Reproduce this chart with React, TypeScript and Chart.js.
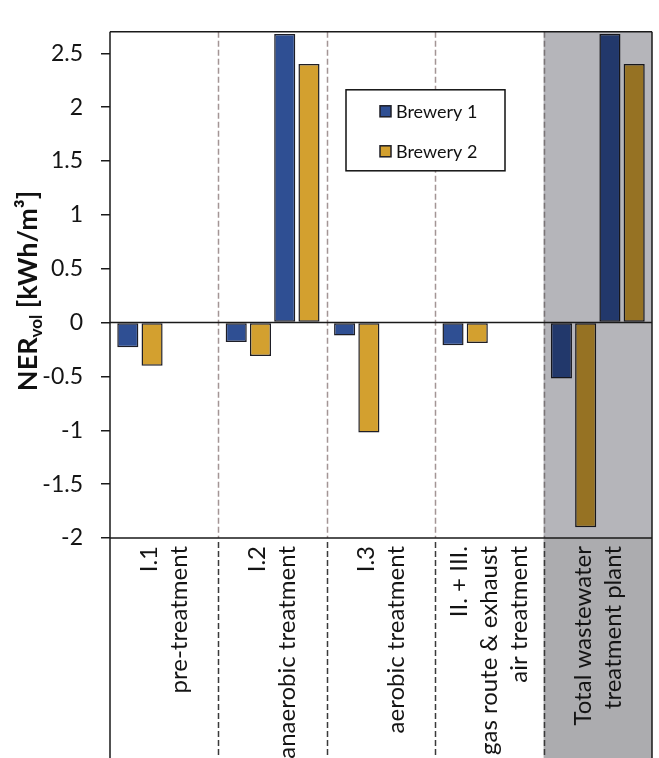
import React, { useEffect, useRef } from "react";
import { Chart, registerables } from "chart.js";

Chart.register(...registerables);

// Category labels (one entry per line of the rotated label)
const categories: string[][] = [
  ["I.1", "pre-treatment"],
  ["I.2", "anaerobic treatment"],
  ["I.3", "aerobic treatment"],
  ["II. + III.", "gas route & exhaust", "air treatment"],
  ["Total wastewater", "treatment plant"],
];

const seriesNames = ["Brewery 1", "Brewery 2"];

// Net energy ratio per volume, kWh/m³ (demand negative, yield positive)
const brewery1Demand = [-0.23, -0.18, -0.12, -0.21, -0.52];
const brewery2Demand = [-0.4, -0.31, -1.02, -0.19, -1.9];
const brewery1Yield = [null, 2.68, null, null, 2.68];
const brewery2Yield = [null, 2.4, null, null, 2.4];

const yTicks = [-2, -1.5, -1, -0.5, 0, 0.5, 1, 1.5, 2, 2.5];
const yMin = -2;
const yMax = 2.7;

const BLUE = "#2F4F93";
const GOLD = "#D3A02F";
const EDGE = "#1e1e26";
const FONT = "Lato, 'Open Sans', sans-serif";

const decorPlugin = {
  id: "decor",
  afterDatasetsDraw(chart: any) {
    const { ctx, chartArea: ca, scales } = chart;
    const x = scales.x;
    const y = scales.y;
    const H = chart.height;
    const half = (x.getPixelForValue(1) - x.getPixelForValue(0)) / 2;
    const lastLeft = x.getPixelForValue(categories.length - 1) - half;

    // shaded "total" column, plot part and label part
    ctx.save();
    ctx.globalCompositeOperation = "multiply";
    ctx.fillStyle = "rgb(181,181,186)";
    ctx.fillRect(lastLeft, ca.top, ca.right - lastLeft, ca.bottom - ca.top);
    ctx.fillStyle = "rgb(172,172,175)";
    ctx.fillRect(lastLeft, ca.bottom, ca.right - lastLeft, H - ca.bottom);
    ctx.restore();

    // dashed separators between categories
    ctx.save();
    ctx.lineWidth = 1.5;
    ctx.setLineDash([6, 3]);
    for (let i = 0; i < categories.length - 1; i++) {
      const sx = Math.round(x.getPixelForValue(i) + half) + 0.5;
      ctx.strokeStyle = i === categories.length - 2 ? "#7a7476" : "#a39595";
      ctx.beginPath();
      ctx.moveTo(sx, ca.top);
      ctx.lineTo(sx, ca.bottom);
      ctx.stroke();
      ctx.strokeStyle = "#3a3a3a";
      ctx.beginPath();
      ctx.moveTo(sx, ca.bottom + 4);
      ctx.lineTo(sx, H);
      ctx.stroke();
    }
    ctx.restore();

    // frame, zero line
    ctx.save();
    ctx.strokeStyle = "#1a1a1a";
    ctx.lineWidth = 1.5;
    const y0 = y.getPixelForValue(0);
    ctx.beginPath();
    ctx.moveTo(ca.left, ca.top);
    ctx.lineTo(ca.right, ca.top);
    ctx.moveTo(ca.left, y0);
    ctx.lineTo(ca.right, y0);
    ctx.moveTo(ca.left, ca.bottom);
    ctx.lineTo(ca.right, ca.bottom);
    ctx.moveTo(ca.left, ca.top);
    ctx.lineTo(ca.left, H);
    ctx.moveTo(ca.right, ca.top);
    ctx.lineTo(ca.right, H);
    ctx.stroke();
    ctx.restore();

    // rotated category labels
    ctx.save();
    ctx.fillStyle = "#141414";
    ctx.font = `24px ${FONT}`;
    ctx.textAlign = "right";
    ctx.textBaseline = "middle";
    const lh = 30;
    categories.forEach((lines, i) => {
      const cx = x.getPixelForValue(i);
      const n = lines.length;
      lines.forEach((line, j) => {
        const lx = cx + (j - (n - 1) / 2) * lh;
        ctx.save();
        ctx.translate(lx, ca.bottom + 8);
        ctx.rotate(-Math.PI / 2);
        ctx.fillText(line, 0, 0);
        ctx.restore();
      });
    });
    ctx.restore();

    // y-axis title with subscript
    ctx.save();
    ctx.fillStyle = "#111";
    ctx.translate(37, (ca.top + ca.bottom) / 2 + 6);
    ctx.rotate(-Math.PI / 2);
    ctx.textBaseline = "alphabetic";
    ctx.textAlign = "left";
    const mainFont = `bold 27px ${FONT}`;
    const subFont = `bold 17px ${FONT}`;
    ctx.font = mainFont;
    const w1 = ctx.measureText("NER").width;
    const w3 = ctx.measureText(" [kWh/m³]").width;
    ctx.font = subFont;
    const w2 = ctx.measureText("vol").width;
    let px = -(w1 + w2 + w3) / 2;
    ctx.font = mainFont;
    ctx.fillText("NER", px, 0);
    px += w1;
    ctx.font = subFont;
    ctx.fillText("vol", px, 5);
    px += w2;
    ctx.font = mainFont;
    ctx.fillText(" [kWh/m³]", px, 0);
    ctx.restore();

    // legend box
    ctx.save();
    const bx = ca.left + 236;
    const by = ca.top + 58;
    ctx.fillStyle = "#ffffff";
    ctx.fillRect(bx, by, 159, 81);
    ctx.strokeStyle = "#111";
    ctx.lineWidth = 1.5;
    ctx.strokeRect(bx, by, 159, 81);
    ctx.font = `18px ${FONT}`;
    ctx.textBaseline = "middle";
    ctx.textAlign = "left";
    [BLUE, GOLD].forEach((c, k) => {
      const iy = by + 16 + k * 40;
      ctx.fillStyle = c;
      ctx.fillRect(bx + 34, iy, 11, 11);
      ctx.strokeStyle = EDGE;
      ctx.lineWidth = 1.5;
      ctx.strokeRect(bx + 34, iy, 11, 11);
      ctx.fillStyle = "#111";
      ctx.fillText(seriesNames[k], bx + 50, iy + 6);
    });
    ctx.restore();
  },
};

export default function App() {
  const canvasRef = useRef<HTMLCanvasElement | null>(null);

  useEffect(() => {
    const canvas = canvasRef.current;
    if (!canvas) return;
    const barStyle = {
      borderColor: EDGE,
      borderWidth: 1.5,
      borderSkipped: false as const,
      categoryPercentage: 0.895,
      barPercentage: 0.87,
    };
    const chart = new Chart(canvas, {
      type: "bar",
      data: {
        labels: categories.map((c) => c.join(" ")),
        datasets: [
          { label: seriesNames[0], data: brewery1Demand, backgroundColor: BLUE, ...barStyle },
          { label: seriesNames[1], data: brewery2Demand, backgroundColor: GOLD, ...barStyle },
          { label: seriesNames[0] + " yield", data: brewery1Yield as any, backgroundColor: BLUE, ...barStyle },
          { label: seriesNames[1] + " yield", data: brewery2Yield as any, backgroundColor: GOLD, ...barStyle },
        ],
      },
      options: {
        animation: false,
        responsive: false,
        maintainAspectRatio: false,
        layout: { padding: { top: 14, right: 7, left: 0, bottom: 0 } },
        plugins: { legend: { display: false }, tooltip: { enabled: false } },
        scales: {
          x: {
            type: "category",
            grid: { display: false },
            border: { display: false },
            ticks: { display: false },
            afterFit: (s: any) => {
              s.height = 220;
            },
          },
          y: {
            min: yMin,
            max: yMax,
            afterBuildTicks: (s: any) => {
              s.ticks = yTicks.map((v) => ({ value: v }));
            },
            ticks: {
              callback: (v: any) => String(v),
              font: { family: FONT, size: 23 },
              color: "#141414",
              padding: 18,
            },
            grid: {
              drawOnChartArea: false,
              drawTicks: true,
              tickLength: 9,
              color: "#1a1a1a",
              lineWidth: 1.5,
            },
            border: { display: false },
            afterFit: (s: any) => {
              s.width = 110;
            },
          },
        },
      },
      plugins: [decorPlugin],
    });
    return () => chart.destroy();
  }, []);

  return (
    <div style={{ position: "absolute", left: 0, top: 0, width: 659, height: 758, background: "#fff" }}>
      <canvas ref={canvasRef} width={659} height={758} style={{ display: "block" }} />
    </div>
  );
}
